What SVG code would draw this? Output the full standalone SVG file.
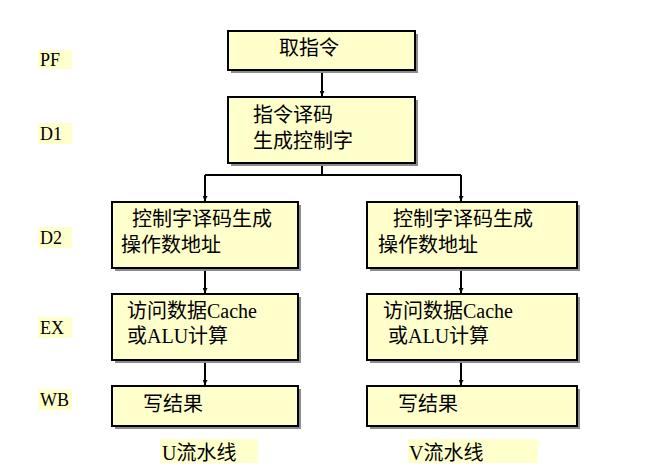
<svg xmlns="http://www.w3.org/2000/svg" width="661" height="473" viewBox="0 0 661 473">
<style>
.box{fill:#FFFFCC;stroke:#000;stroke-width:2}
.sh{fill:#8C8C8C}
.t{font-family:"Liberation Serif","Noto Sans CJK SC",serif;font-size:20px;fill:#000}
.lbl{font-family:"Liberation Serif","DejaVu Serif",serif;font-size:18px;fill:#000}
.hl{fill:#FFFFCC}
.ln{stroke:#000;stroke-width:2;fill:none}
</style>
<defs>
<marker id="ah" viewBox="0 0 10 10" refX="10" refY="5" markerWidth="5" markerHeight="5" orient="auto" markerUnits="userSpaceOnUse">
<path d="M0,0 L10,5 L0,10 z" fill="#000"/>
</marker>
</defs>
<rect width="661" height="473" fill="#fff"/>
<g id="stage-labels">
<rect class="hl" x="38" y="50" width="34" height="19"/>
<text class="lbl" x="40" y="66">PF</text>
<rect class="hl" x="38" y="123" width="34" height="21"/>
<text class="lbl" x="40" y="140">D1</text>
<rect class="hl" x="38" y="227" width="34" height="21"/>
<text class="lbl" x="40" y="244">D2</text>
<rect class="hl" x="38" y="317" width="34" height="21"/>
<text class="lbl" x="40" y="334">EX</text>
<rect class="hl" x="38" y="389" width="34" height="21"/>
<text class="lbl" x="40" y="406">WB</text>
</g>
<g id="connectors">
<line class="ln" x1="322" y1="70" x2="322" y2="96" marker-end="url(#ah)"/>
<polyline class="ln" points="322,163 322,175"/>
<polyline class="ln" points="205,175 461,175"/>
<line class="ln" x1="205" y1="175" x2="205" y2="201" marker-end="url(#ah)"/>
<line class="ln" x1="461" y1="175" x2="461" y2="201" marker-end="url(#ah)"/>
<line class="ln" x1="205" y1="268" x2="205" y2="293" marker-end="url(#ah)"/>
<line class="ln" x1="461" y1="268" x2="461" y2="293" marker-end="url(#ah)"/>
<line class="ln" x1="205" y1="360" x2="205" y2="385" marker-end="url(#ah)"/>
<line class="ln" x1="461" y1="360" x2="461" y2="385" marker-end="url(#ah)"/>
</g>
<g id="node-fetch">
<rect class="sh" x="231" y="34" width="187" height="39"/>
<rect class="box" x="228" y="31" width="187" height="39"/>
<text class="t" x="279" y="55">取指令</text>
</g>
<g id="node-d1">
<rect class="sh" x="231" y="100" width="187" height="66"/>
<rect class="box" x="228" y="97" width="187" height="66"/>
<text class="t" x="253" y="122">指令译码</text>
<text class="t" x="253" y="148">生成控制字</text>
</g>
<g id="node-u-d2">
<rect class="sh" x="115" y="205" width="186" height="66"/>
<rect class="box" x="112" y="202" width="186" height="66"/>
<text class="t" x="132" y="226">控制字译码生成</text>
<text class="t" x="121" y="252">操作数地址</text>
</g>
<g id="node-u-ex">
<rect class="sh" x="115" y="297" width="186" height="66"/>
<rect class="box" x="112" y="294" width="186" height="66"/>
<text class="t" x="127" y="318">访问数据Cache</text>
<text class="t" x="127" y="343">或ALU计算</text>
</g>
<g id="node-u-wb">
<rect class="sh" x="115" y="389" width="186" height="40"/>
<rect class="box" x="112" y="386" width="186" height="40"/>
<text class="t" x="143" y="411">写结果</text>
</g>
<g id="node-v-d2">
<rect class="sh" x="370" y="205" width="210" height="66"/>
<rect class="box" x="367" y="202" width="210" height="66"/>
<text class="t" x="393" y="226">控制字译码生成</text>
<text class="t" x="378" y="252">操作数地址</text>
</g>
<g id="node-v-ex">
<rect class="sh" x="370" y="297" width="210" height="66"/>
<rect class="box" x="367" y="294" width="210" height="66"/>
<text class="t" x="383" y="318">访问数据Cache</text>
<text class="t" x="388" y="343">或ALU计算</text>
</g>
<g id="node-v-wb">
<rect class="sh" x="370" y="389" width="210" height="40"/>
<rect class="box" x="367" y="386" width="210" height="40"/>
<text class="t" x="398" y="411">写结果</text>
</g>
<g id="pipe-labels">
<rect class="hl" x="160" y="439" width="98" height="24"/>
<text class="t" x="162" y="460">U流水线</text>
<rect class="hl" x="408" y="439" width="130" height="24"/>
<text class="t" x="409" y="460">V流水线</text>
</g>
</svg>
